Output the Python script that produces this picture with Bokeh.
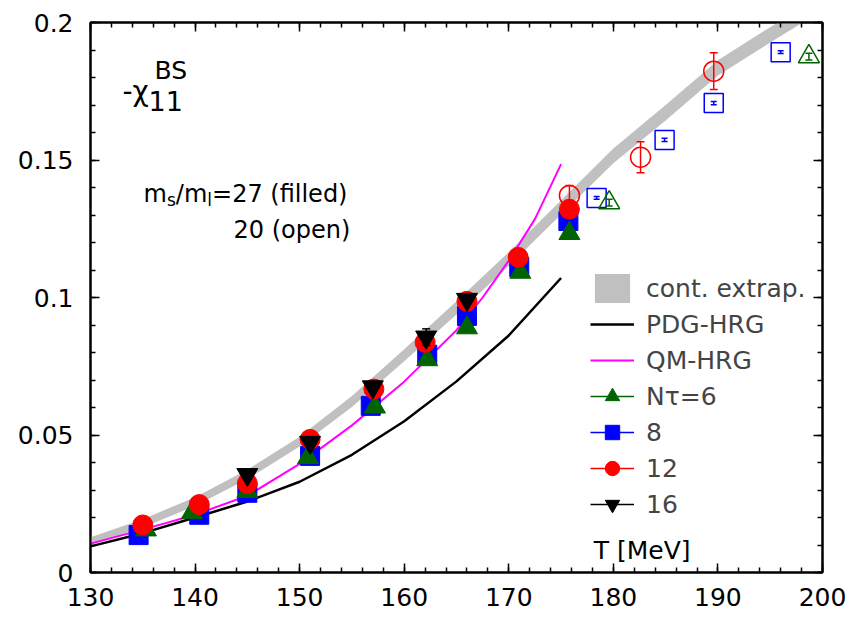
import numpy as np
from bokeh.plotting import figure
from bokeh.models import FixedTicker, LinearAxis, Range1d, Label, Legend, LegendItem
from bokeh.embed import file_html
from bokeh.resources import INLINE

FONT = "DejaVu Sans"

# ---------------- data ----------------
# continuum extrapolation band (centre and half width)
T_cont = [130, 135, 140, 145, 150, 155, 160, 165, 170, 175, 180, 185, 190, 195, 198]
chi_cont = [0.0114, 0.0179, 0.0258, 0.0357, 0.0476, 0.0622, 0.0790, 0.0962, 0.1140,
            0.1328, 0.1515, 0.1672, 0.1835, 0.1955, 0.2025]
chi_cont_err = [0.0014, 0.0015, 0.0016, 0.0017, 0.0018, 0.0020, 0.0022, 0.0024, 0.0025,
                0.0026, 0.0027, 0.0028, 0.0028, 0.0028, 0.0028]

# HRG curves
T_pdg = [130, 135, 140, 145, 150, 155, 160, 165, 170, 175]
chi_pdg = [0.0095, 0.0143, 0.0200, 0.0258, 0.0330, 0.0428, 0.0550, 0.0695, 0.0862, 0.1071]

T_qm = [130, 135, 140, 145, 150, 155, 160, 165, 167.5, 170, 172.5, 175]
chi_qm = [0.0105, 0.0156, 0.0210, 0.0279, 0.0395, 0.0535, 0.0694, 0.0881, 0.1000, 0.1134,
          0.1285, 0.1485]

# lattice data, m_s/m_l = 27 (filled)
T_n6 = [135.3, 139.7, 145.0, 150.8, 157.2, 162.2, 166.0, 171.1, 175.8]
chi_n6 = [0.0155, 0.0218, 0.0295, 0.0418, 0.0602, 0.0774, 0.0890, 0.1092, 0.1233]
err_n6 = [0.0005, 0.0005, 0.0006, 0.0006, 0.0007, 0.0008, 0.0008, 0.0009, 0.0010]

T_n8 = [134.6, 140.4, 145.0, 151.0, 156.8, 162.2, 166.0, 171.0, 175.7]
chi_n8 = [0.0136, 0.0210, 0.0290, 0.0424, 0.0606, 0.0792, 0.0933, 0.1111, 0.1278]
err_n8 = [0.0005, 0.0005, 0.0006, 0.0006, 0.0007, 0.0008, 0.0008, 0.0009, 0.0010]

T_n12 = [135.0, 140.4, 145.0, 151.0, 157.1, 162.0, 166.0, 170.9, 175.8]
chi_n12 = [0.0173, 0.0247, 0.0324, 0.0484, 0.0667, 0.0837, 0.0986, 0.1146, 0.1321]
err_n12 = [0.0008, 0.0008, 0.0009, 0.0010, 0.0012, 0.0013, 0.0014, 0.0015, 0.0016]

T_n16 = [145.0, 151.0, 157.0, 162.1, 166.0]
chi_n16 = [0.0356, 0.0473, 0.0675, 0.0856, 0.0993]
err_n16 = [0.0012, 0.0014, 0.0016, 0.0030, 0.0018]

# lattice data, m_s/m_l = 20 (open)
T_n6o = [179.6, 198.7]
chi_n6o = [0.1345, 0.1876]
err_n6o = [0.0012, 0.0012]

T_n8o = [178.4, 184.9, 189.6, 196.0]
chi_n8o = [0.1362, 0.1573, 0.1707, 0.1892]
err_n8o = [0.0005, 0.0006, 0.0006, 0.0005]

T_n12o = [175.8, 182.6, 189.6]
chi_n12o = [0.1371, 0.1510, 0.1823]
err_n12o = [0.0036, 0.0056, 0.0067]

# ticks
x_ticks = [130, 140, 150, 160, 170, 180, 190, 200]
x_tick_labels = ["130", "140", "150", "160", "170", "180", "190", "200"]
x_minor = list(range(130, 201, 2))
y_ticks = [0, 0.05, 0.1, 0.15, 0.2]
y_tick_labels = ["0", "0.05", "0.1", "0.15", "0.2"]
y_minor = [round(0.01 * i, 2) for i in range(21)]

GREEN = "#006400"
BLUE = "#0000ff"
RED = "#ff0000"
BLACK = "#000000"
MAGENTA = "#ff00ff"
GREY = "#c0c0c0"

# ---------------- figure ----------------
p = figure(width=855, height=617, x_range=Range1d(130, 200), y_range=Range1d(0, 0.2),
           output_backend="svg", toolbar_location=None,
           min_border_left=90, min_border_right=33, min_border_top=22, min_border_bottom=45)
p.xgrid.visible = False
p.ygrid.visible = False
p.outline_line_color = "black"
p.outline_line_width = 2
p.background_fill_color = "white"
p.border_fill_color = "white"


def style_axis(ax, ticks, minor, labels, show_labels, standoff):
    ax.ticker = FixedTicker(ticks=ticks, minor_ticks=minor)
    ax.major_tick_in = 9
    ax.major_tick_out = 0
    ax.minor_tick_in = 5
    ax.minor_tick_out = 0
    ax.axis_line_width = 2
    ax.major_tick_line_width = 1.5
    ax.minor_tick_line_width = 1.5
    ax.axis_line_color = "black"
    if show_labels:
        ax.major_label_overrides = {t: l for t, l in zip(ticks, labels)}
        ax.major_label_text_font = FONT
        ax.major_label_text_font_size = "25px"
        ax.major_label_text_color = "black"
        ax.major_label_standoff = standoff
    else:
        ax.major_label_overrides = {t: "" for t in ticks}
        ax.major_label_text_font_size = "0px"
        ax.major_label_standoff = 0


style_axis(p.xaxis[0], x_ticks, x_minor, x_tick_labels, True, 15)
style_axis(p.yaxis[0], y_ticks, y_minor, y_tick_labels, True, 17)
top_ax = LinearAxis()
right_ax = LinearAxis()
style_axis(top_ax, x_ticks, x_minor, x_tick_labels, False, 0)
style_axis(right_ax, y_ticks, y_minor, y_tick_labels, False, 0)
p.add_layout(top_ax, "above")
p.add_layout(right_ax, "right")

# continuum band
cc = np.array(chi_cont)
ce = np.array(chi_cont_err)
band = p.varea(x=T_cont, y1=cc - ce, y2=cc + ce, fill_color=GREY)

# HRG lines
pdg = p.line(T_pdg, chi_pdg, line_color=BLACK, line_width=2.5)
qm = p.line(T_qm, chi_qm, line_color=MAGENTA, line_width=2)


def errbars(T, chi, err, color, cap=8):
    c = np.array(chi)
    e = np.array(err)
    seg = p.segment(x0=T, y0=c - e, x1=T, y1=c + e, line_color=color, line_width=1.5)
    p.scatter(x=list(T) * 2, y=list(c - e) + list(c + e), marker="dash", size=cap,
              line_color=color, line_width=1.5)
    return seg


# open symbols (m_s/m_l = 20)
errbars(T_n8o, chi_n8o, err_n8o, BLUE, 6)
p.scatter(T_n8o, chi_n8o, marker="square", size=19, fill_color=None, line_color=BLUE, line_width=1.5)
errbars(T_n6o, chi_n6o, err_n6o, GREEN, 7)
p.scatter(T_n6o, chi_n6o, marker="triangle", size=21, fill_color=None, line_color=GREEN, line_width=1.5)
errbars(T_n12o, chi_n12o, err_n12o, RED, 8)
p.scatter(T_n12o, chi_n12o, marker="circle", size=20, fill_color=None, line_color=RED, line_width=1.5)

# filled symbols (m_s/m_l = 27)
s8 = errbars(T_n8, chi_n8, err_n8, BLUE)
m8 = p.scatter(T_n8, chi_n8, marker="square", size=19, fill_color=BLUE, line_color=BLUE)
s6 = errbars(T_n6, chi_n6, err_n6, GREEN)
m6 = p.scatter(T_n6, chi_n6, marker="triangle", size=21, fill_color=GREEN, line_color=GREEN)
s12 = errbars(T_n12, chi_n12, err_n12, RED)
m12 = p.scatter(T_n12, chi_n12, marker="circle", size=20, fill_color=RED, line_color=RED)
s16 = errbars(T_n16, chi_n16, err_n16, BLACK)
m16 = p.scatter(T_n16, chi_n16, marker="inverted_triangle", size=21, fill_color=BLACK, line_color=BLACK)

# legend
legend = Legend(items=[
    LegendItem(label="cont. extrap.", renderers=[band]),
    LegendItem(label="PDG-HRG", renderers=[pdg]),
    LegendItem(label="QM-HRG", renderers=[qm]),
    LegendItem(label="N\u03c4=6", renderers=[s6, m6]),
    LegendItem(label="8", renderers=[s8, m8]),
    LegendItem(label="12", renderers=[s12, m12]),
    LegendItem(label="16", renderers=[s16, m16]),
], location=(500, 50))
legend.label_text_font = FONT
legend.label_text_font_size = "25px"
legend.glyph_width = 44
legend.glyph_height = 36
legend.label_height = 36
legend.spacing = 0
legend.padding = 0
legend.margin = 0
legend.label_standoff = 12
legend.border_line_color = None
legend.background_fill_alpha = 0
p.add_layout(legend, "center")

# texts
def lab(x, y, text, size, dx=0, dy=0):
    p.add_layout(Label(x=x, y=y, x_offset=dx, y_offset=dy, text=text, text_font=FONT,
                       text_font_size=size, text_color="black", text_baseline="alphabetic",
                       text_align="left"))

# -chi_11^BS
lab(133.06, 0.1749, "-\u03c7", "28px")
lab(133.06, 0.1749, "11", "27px", dx=26, dy=-9)
lab(133.06, 0.1749, "BS", "25px", dx=32, dy=21)

# m_s/m_l=27 (filled)
lab(135.07, 0.1378, "m", "24px")
lab(135.07, 0.1378, "s", "17px", dx=23.4, dy=-6)
lab(135.07, 0.1378, "/m", "24px", dx=32.3)
lab(135.07, 0.1378, "l", "17px", dx=63.8, dy=-6)
lab(135.07, 0.1378, "=27 (filled)", "24px", dx=68.5)
lab(143.68, 0.1247, "20 (open)", "24px")

# x axis title inside the frame
lab(178.13, 0.0080, "T [MeV]", "25px")

open("out.html", "w").write(file_html(p, INLINE))
